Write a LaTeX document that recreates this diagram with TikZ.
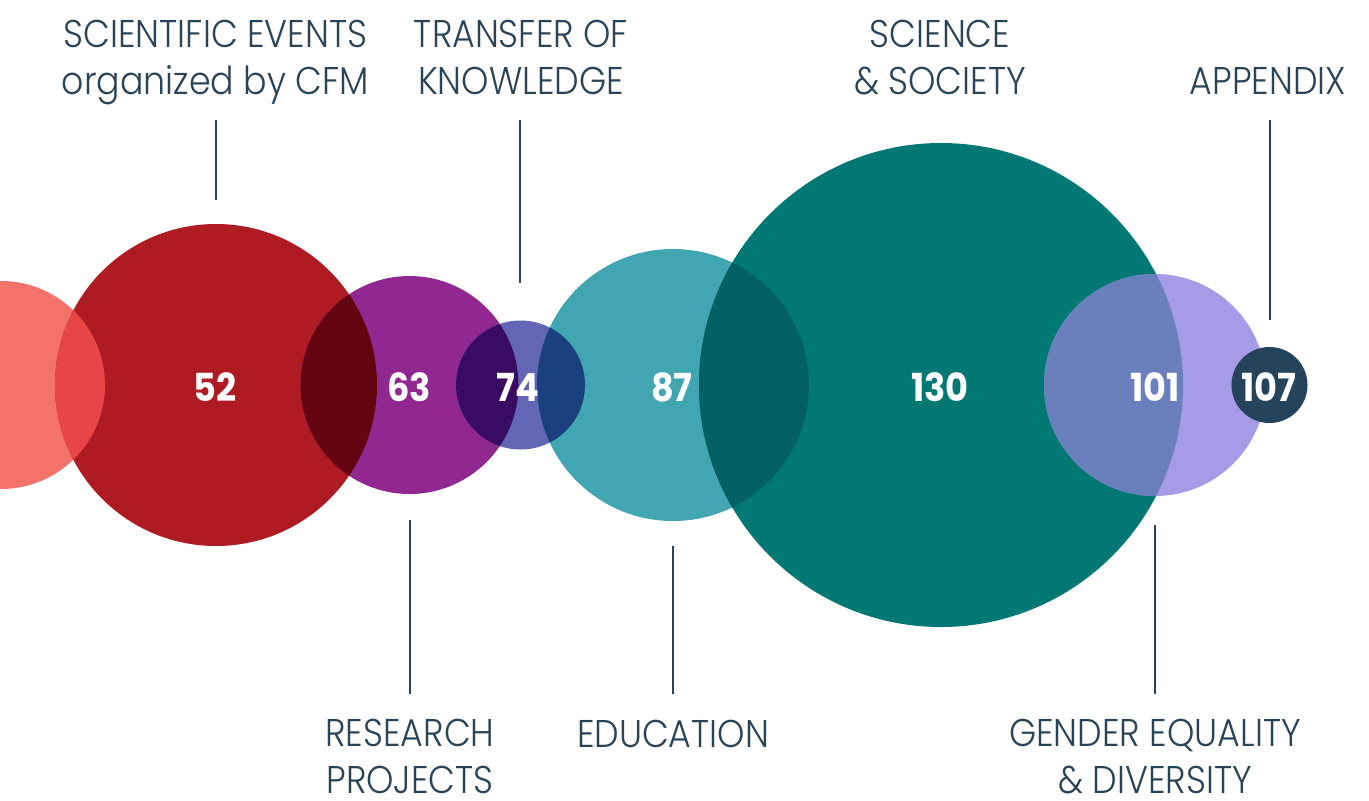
\documentclass[tikz,border=0pt]{standalone}
\usepackage{fontspec}
\newfontfamily\lblfont{Poppins Light}[FakeStretch=0.9]
\newfontfamily\numfont{Poppins Bold}[FakeStretch=0.91]
\definecolor{cSalmon}{HTML}{F37269}
\definecolor{cRed}{HTML}{AF1B22}
\definecolor{cPurple}{HTML}{912790}
\definecolor{cIndigo}{HTML}{6366B5}
\definecolor{cTealL}{HTML}{41A6B2}
\definecolor{cTealD}{HTML}{027875}
\definecolor{cLav}{HTML}{A59BE6}
\definecolor{cNavy}{HTML}{25435A}
\definecolor{oSR}{HTML}{E84646}
\definecolor{oRP}{HTML}{63040F}
\definecolor{oPI}{HTML}{3A0B63}
\definecolor{oIT}{HTML}{1A417E}
\definecolor{oTT}{HTML}{036064}
\definecolor{oTL}{HTML}{6A80BD}
\definecolor{cText}{HTML}{2A4457}
\def\pSalmon{(1,385) circle (104)}
\def\pRed{(216,385) circle (161)}
\def\pPurple{(409.5,385) circle (109)}
\def\pIndigo{(520.5,385) circle (64.5)}
\def\pTealL{(673,385) circle (136)}
\def\pTealD{(941,385) circle (242)}
\def\pLav{(1155,385) circle (111)}
\def\pNavy{(1269.5,385) circle (38)}
\begin{document}
\begin{tikzpicture}[x=0.75pt,y=-0.75pt,
  lbl/.style={text=cText,font=\lblfont\fontsize{29}{35.25}\selectfont,align=center,inner sep=0pt,anchor=base},
  num/.style={text=white,font=\numfont\fontsize{29}{30}\selectfont,inner sep=0pt},
  conn/.style={draw=cText,line width=1.1pt}]
\useasboundingbox (0,0) rectangle (1369,800);
% circles
\fill[cSalmon] \pSalmon;
\fill[cRed] \pRed;
\fill[cPurple] \pPurple;
\fill[cIndigo] \pIndigo;
\fill[cTealL] \pTealL;
\fill[cTealD] \pTealD;
\fill[cLav] \pLav;
% overlaps
\begin{scope}\clip \pSalmon; \fill[oSR] \pRed; \end{scope}
\begin{scope}\clip \pRed; \fill[oRP] \pPurple; \end{scope}
\begin{scope}\clip \pPurple; \fill[oPI] \pIndigo; \end{scope}
\begin{scope}\clip \pIndigo; \fill[oIT] \pTealL; \end{scope}
\begin{scope}\clip \pTealL; \fill[oTT] \pTealD; \end{scope}
\begin{scope}\clip \pTealD; \fill[oTL] \pLav; \end{scope}
\fill[cNavy] \pNavy;
% numbers
\node[num] (n52) at (215,387) {52};
\node[num] (n63) at (409,387) {63};
\node[num] (n74) at (518,387) {74};
\node[num] (n87) at (672,387) {87};
\node[num] (n130) at (940,387) {130};
\node[num] (n101) at (1155,387) {101};
\node[num] (n107) at (1269,387) {107};
% labels (base anchor = baseline of the last line)
\node[lbl] (l52) at (215.5,94) {SCIENTIFIC EVENTS\\organized by CFM};
\node[lbl] (l74) at (521,94) {TRANSFER OF\\KNOWLEDGE};
\node[lbl] (l130) at (940,94) {SCIENCE\\\& SOCIETY};
\node[lbl] (l107) at (1268,94) {APPENDIX};
\node[lbl] (l63) at (410,793) {RESEARCH\\PROJECTS};
\node[lbl] (l87) at (673,747) {EDUCATION};
\node[lbl] (l101) at (1155,793) {GENDER EQUALITY\\\& DIVERSITY};
% connectors
\coordinate (a52) at (216,120); \coordinate (b52) at (216,200);
\coordinate (a74) at (520,120); \coordinate (b74) at (520,283);
\coordinate (a107) at (1270,120); \coordinate (b107) at (1270,320);
\coordinate (a63) at (410,520); \coordinate (b63) at (410,694);
\coordinate (a87) at (673,546); \coordinate (b87) at (673,694);
\coordinate (a101) at (1155,525); \coordinate (b101) at (1155,694);
\draw[conn] (a52) -- (b52);
\draw[conn] (a74) -- (b74);
\draw[conn] (a107) -- (b107);
\draw[conn] (a63) -- (b63);
\draw[conn] (a87) -- (b87);
\draw[conn] (a101) -- (b101);
\end{tikzpicture}
\end{document}
